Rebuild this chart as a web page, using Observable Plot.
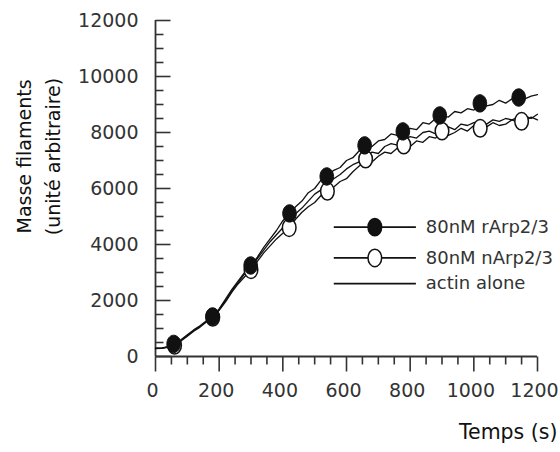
<!DOCTYPE html>
<html><head><meta charset="utf-8">
<script src="https://cdn.jsdelivr.net/npm/d3@7"></script>
<script src="https://cdn.jsdelivr.net/npm/@observablehq/plot@0.6"></script>
<style>body{margin:0;background:#fff} #chart{width:560px;height:452px}</style>
</head><body><div id="chart"></div>
<script>
// ---- data ----
const time = [0,20,40,60,80,100,120,140,160,180,200,220,240,260,280,300,320,340,360,380,400,420,440,460,480,500,520,540,560,580,600,620,640,660,680,700,720,740,760,780,800,820,840,860,880,900,920,940,960,980,1000,1020,1040,1060,1080,1100,1120,1140,1160,1180,1200];
const rArp = [300,310,350,450,600,780,950,1100,1280,1450,1700,2050,2400,2700,3000,3250,3550,3900,4200,4500,4850,5100,5350,5550,5850,6000,6300,6450,6650,6750,7000,7100,7350,7550,7500,7700,7750,7950,7900,8050,8150,8100,8350,8300,8500,8600,8550,8750,8700,8850,8800,9050,8950,9000,9150,9050,9200,9250,9200,9300,9350];
const nArp = [300,300,330,400,550,720,900,1050,1230,1400,1650,1950,2300,2600,2850,3100,3400,3700,3950,4200,4400,4600,4900,5150,5350,5500,5750,5900,6050,6250,6350,6600,6800,7050,6950,7150,7300,7250,7450,7550,7500,7700,7650,7850,7800,8050,7900,8000,8150,8050,8250,8150,8200,8350,8250,8300,8450,8350,8400,8550,8450];
const actin = [280,290,340,430,580,750,930,1080,1250,1420,1680,2000,2350,2650,2950,3200,3500,3800,4100,4350,4600,4850,5100,5300,5550,5800,5950,6200,6350,6500,6700,6850,6950,7150,7300,7250,7500,7600,7550,7750,7850,7800,8000,8050,7950,8150,8200,8100,8300,8250,8350,8400,8300,8450,8400,8500,8450,8550,8600,8500,8650];
const rMarkT = [57,179,299,421,538,657,777,893,1019,1141];
const rMarkV = [450,1430,3250,5110,6430,7540,8040,8610,9040,9250];
const nMarkT = [60,180,300,420,540,660,780,900,1020,1150];
const nMarkV = [400,1400,3100,4600,5900,7050,7550,8050,8150,8400];
const legendLabels = ["80nM rArp2/3","80nM nArp2/3","actin alone"];
const xMajor = [0,200,400,600,800,1000,1200];
const yMajor = [0,2000,4000,6000,8000,10000,12000];
const xMinor = d3.range(0,1201,50).filter(v => v % 200 !== 0);
const yMinor = d3.range(0,12001,500).filter(v => v % 2000 !== 0);
const xTitle = "Temps (s)";
const yTitle = "Masse filaments\n(unité arbitraire)";

// ---- layout ----
const W = 560, H = 452, mL = 155, mR = 23, mT = 20, mB = 96;
const xDom = [0,1200], yDom = [0,12000];
const xUnitsPerPx = (xDom[1]-xDom[0]) / (W - mL - mR);
const yUnitsPerPx = (yDom[1]-yDom[0]) / (H - mT - mB);

// ---- build ----
const series = (name, vals) => time.map((t,i) => ({t, v: vals[i], name}));
const lines = [...series("actin", actin), ...series("n", nArp), ...series("r", rArp)];
const rMarks = rMarkT.map((t,i) => ({t, v: rMarkV[i]}));
const nMarks = nMarkT.map((t,i) => ({t, v: nMarkV[i]}));

const ellipse = {draw(ctx){ const rx=6.8, ry=8.7, k=0.5523;
  ctx.moveTo(rx,0);
  ctx.bezierCurveTo(rx, ry*k, rx*k, ry, 0, ry);
  ctx.bezierCurveTo(-rx*k, ry, -rx, ry*k, -rx, 0);
  ctx.bezierCurveTo(-rx, -ry*k, -rx*k, -ry, 0, -ry);
  ctx.bezierCurveTo(rx*k, -ry, rx, -ry*k, rx, 0);
  ctx.closePath(); }};

// legend placement (data units of the chart's scales)
const legX1 = 560, legX2 = 818, legXm = 689, legXt = 849;
const legY = [4620, 3520, 2600];
const legend = legendLabels.map((label,i) => ({label, y: legY[i], i}));

const ink = "#333";
const font = "'DejaVu Sans', Verdana, sans-serif";
const tickW = 1.6;
const xTick = (vals, px) => Plot.link(vals, {x1: d => d, x2: d => d, y1: () => 0, y2: () => -px * yUnitsPerPx, stroke: ink, strokeWidth: tickW});
const yTick = (vals, px) => Plot.link(vals, {y1: d => d, y2: d => d, x1: () => 0, x2: () => px * xUnitsPerPx, stroke: ink, strokeWidth: tickW});

const chart = Plot.plot({
  width: W, height: H,
  marginLeft: mL, marginRight: mR, marginTop: mT, marginBottom: mB,
  x: {domain: xDom},
  y: {domain: yDom},
  style: {fontFamily: font, fontSize: "19px", color: ink, background: "#fff"},
  marks: [
    Plot.axisX(xMajor, {tickSize: 0, tickPadding: 27, dx: -3, label: null, tickFormat: "d"}),
    Plot.axisY(yMajor, {tickSize: 0, tickPadding: 17, label: null, tickFormat: "d"}),
    xTick(xMajor, 15), xTick(xMinor, 8),
    yTick(yMajor, 15), yTick(yMinor, 8),
    Plot.ruleX([0], {stroke: ink, strokeWidth: 1.8}),
    Plot.ruleY([0], {stroke: ink, strokeWidth: 1.8}),
    Plot.line(lines, {x: "t", y: "v", z: "name", stroke: "#111", strokeWidth: 1.3}),
    Plot.dot(nMarks, {x: "t", y: "v", symbol: ellipse, fill: "#fff", stroke: "#111", strokeWidth: 1.5}),
    Plot.dot(rMarks, {x: "t", y: "v", symbol: ellipse, fill: "#111", stroke: "#111", strokeWidth: 1}),
    Plot.link(legend, {x1: () => legX1, x2: () => legX2, y1: "y", y2: "y", stroke: "#111", strokeWidth: 1.8}),
    Plot.dot(legend.filter(d => d.i === 0), {x: () => legXm, y: "y", symbol: ellipse, fill: "#111", stroke: "#111"}),
    Plot.dot(legend.filter(d => d.i === 1), {x: () => legXm, y: "y", symbol: ellipse, fill: "#fff", stroke: "#111", strokeWidth: 1.5}),
    Plot.text(legend, {x: () => legXt, y: "y", text: "label", textAnchor: "start", fontSize: 18, fill: ink}),
    Plot.text([xTitle], {frameAnchor: "bottom-right", textAnchor: "end", dx: 20, dy: 82, fontSize: 20.5, fill: "#111"}),
    Plot.text([yTitle], {frameAnchor: "left", textAnchor: "middle", rotate: -90, dx: -119, dy: -32, lineHeight: 1.5, fontSize: 19, fill: "#111"})
  ]
});
document.getElementById("chart").appendChild(chart);
</script></body></html>
